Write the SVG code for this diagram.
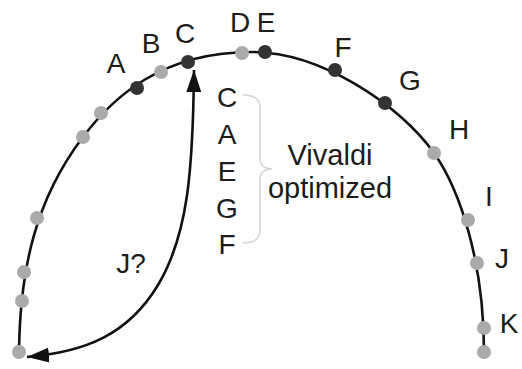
<svg xmlns="http://www.w3.org/2000/svg" width="522" height="369" viewBox="0 0 522 369">
  <style>
    .ring { fill: none; stroke: #111; stroke-width: 2.6; }
    .link { fill: none; stroke: #111; stroke-width: 2.6; }
    .brace { fill: none; stroke: #d4d4d4; stroke-width: 1.5; }
    .idle { fill: #aaaaaa; }
    .live { fill: #333333; }
    text { font-family: "Liberation Sans", Arial, sans-serif; fill: #1c1c1c; }
    .lbl { font-size: 28px; text-anchor: middle; }
    .note { font-size: 29px; text-anchor: middle; }
  </style>
  <defs>
    <marker id="head" viewBox="0 0 22 15" refX="22" refY="7.5" markerWidth="22" markerHeight="15" markerUnits="userSpaceOnUse" orient="auto-start-reverse">
      <path d="M0,0 L22,7.5 L0,15 z" fill="#111"/>
    </marker>
  </defs>

  <!-- ring of peers and the lookup jump -->
  <g id="connectors">
    <path class="ring" d="M19,352 C20,270 35,200 83,137 C113,97 162,52 252,52 C320,52 399,104 434,153 C460,190 484,262 484,352"/>
    <path class="link" d="M194,70 C193,170 188,235 158,285 C128,335 85,352 27,357" marker-start="url(#head)" marker-end="url(#head)"/>
    <text class="lbl" x="131" y="273">J?</text>
  </g>

  <!-- unlabelled peers -->
  <g id="n1"><circle class="idle" cx="19" cy="352" r="7"/></g>
  <g id="n2"><circle class="idle" cx="22" cy="301" r="7"/></g>
  <g id="n3"><circle class="idle" cx="24" cy="272" r="7"/></g>
  <g id="n4"><circle class="idle" cx="37" cy="218" r="7"/></g>
  <g id="n5"><circle class="idle" cx="83" cy="137" r="7"/></g>
  <g id="n6"><circle class="idle" cx="101" cy="113" r="7"/></g>
  <g id="n7"><circle class="idle" cx="484" cy="352" r="7"/></g>

  <!-- labelled peers -->
  <g id="A"><circle class="live" cx="137" cy="88" r="7"/><text class="lbl" x="116" y="73">A</text></g>
  <g id="B"><circle class="idle" cx="161" cy="72" r="7"/><text class="lbl" x="151" y="53">B</text></g>
  <g id="C"><circle class="live" cx="188" cy="62" r="7"/><text class="lbl" x="185" y="43">C</text></g>
  <g id="D"><circle class="idle" cx="242" cy="53" r="7"/><text class="lbl" x="240" y="32">D</text></g>
  <g id="E"><circle class="live" cx="265" cy="52" r="7"/><text class="lbl" x="266" y="32">E</text></g>
  <g id="F"><circle class="live" cx="335" cy="70" r="7"/><text class="lbl" x="343" y="57">F</text></g>
  <g id="G"><circle class="live" cx="385" cy="103" r="7"/><text class="lbl" x="410" y="90">G</text></g>
  <g id="H"><circle class="idle" cx="434" cy="153" r="7"/><text class="lbl" x="459" y="139">H</text></g>
  <g id="I"><circle class="idle" cx="468" cy="220" r="7"/><text class="lbl" x="489" y="206">I</text></g>
  <g id="J"><circle class="idle" cx="477" cy="263" r="7"/><text class="lbl" x="502" y="268">J</text></g>
  <g id="K"><circle class="idle" cx="484" cy="328" r="7"/><text class="lbl" x="509" y="333">K</text></g>

  <!-- ordered list with its brace -->
  <g id="order">
    <text class="lbl" x="227" y="107">C</text>
    <text class="lbl" x="227" y="144">A</text>
    <text class="lbl" x="227" y="181">E</text>
    <text class="lbl" x="227" y="218">G</text>
    <text class="lbl" x="227" y="254">F</text>
    <path class="brace" d="M243,95 Q260,95 260,108 L260,158 Q260,169 272,169 Q260,169 260,180 L260,230 Q260,243 243,243"/>
    <text class="note" x="330" y="165">Vivaldi</text>
    <text class="note" x="330" y="198">optimized</text>
  </g>
</svg>
